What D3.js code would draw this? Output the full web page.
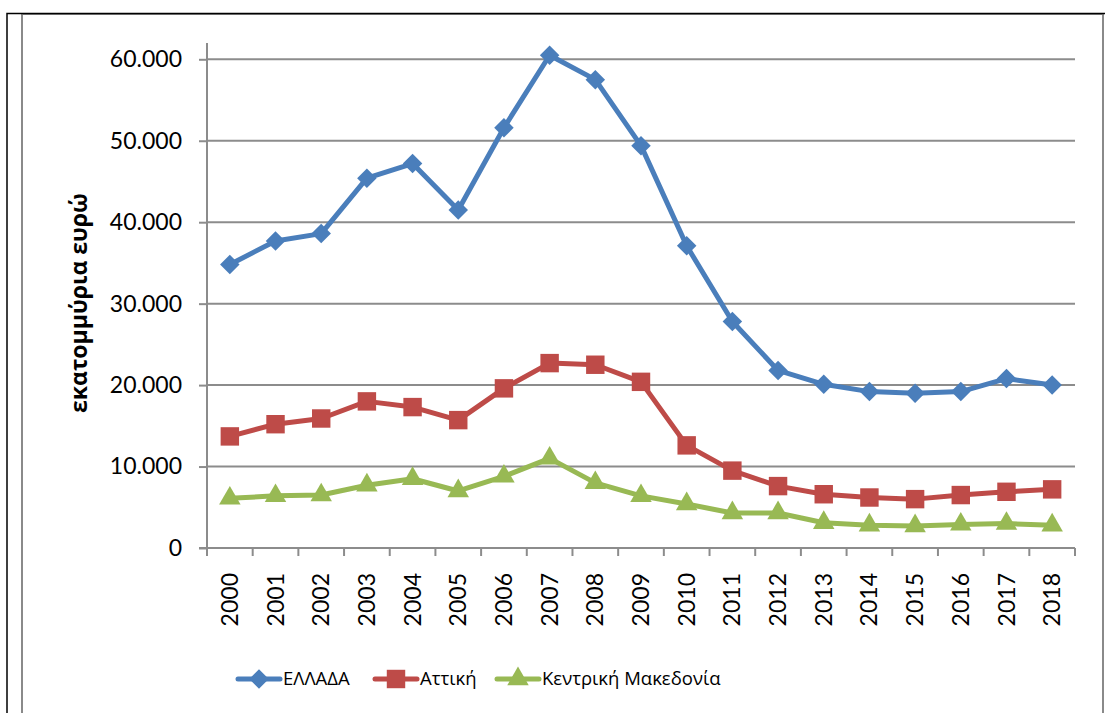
<!DOCTYPE html>
<html>
<head>
<meta charset="utf-8">
<script src="https://cdn.jsdelivr.net/npm/d3@7"></script>
<style>
    body { margin: 0; background: #fff; }
    text { font-family: Lato, "Open Sans", sans-serif; fill: #000; }
    .greek { font-family: "Open Sans", "Noto Sans", sans-serif; }
</style>
</head>
<body>
<script>
// dimensions
const width = 1105;
const height = 713;

// data (millions of euro)
const years = ["2000", "2001", "2002", "2003", "2004", "2005", "2006", "2007", "2008", "2009",
    "2010", "2011", "2012", "2013", "2014", "2015", "2016", "2017", "2018"];
const ellada = [34.8, 37.7, 38.6, 45.4, 47.2, 41.5, 51.6, 60.5, 57.5, 49.4,
    37.1, 27.8, 21.8, 20.1, 19.2, 19.0, 19.2, 20.8, 20.0].map(v => v * 1000);
const attiki = [13.7, 15.2, 15.9, 18.0, 17.3, 15.7, 19.6, 22.7, 22.5, 20.4,
    12.6, 9.5, 7.6, 6.6, 6.2, 6.0, 6.5, 6.9, 7.2].map(v => v * 1000);
const kentrMak = [6.1, 6.4, 6.5, 7.7, 8.5, 7.0, 8.8, 11.0, 8.0, 6.4,
    5.4, 4.3, 4.3, 3.1, 2.8, 2.7, 2.9, 3.0, 2.8].map(v => v * 1000);
const yTicks = [0, 10000, 20000, 30000, 40000, 50000, 60000];

const seriesNames = ["ΕΛΛΑΔΑ", "Αττική", "Κεντρική Μακεδονία"];
const seriesColors = ["#4a7ebb", "#be4b48", "#98b954"];

const series = [
    { name: seriesNames[0], values: ellada, color: seriesColors[0], marker: "diamond" },
    { name: seriesNames[1], values: attiki, color: seriesColors[1], marker: "square" },
    { name: seriesNames[2], values: kentrMak, color: seriesColors[2], marker: "triangle" }
];

const plot = { left: 207, right: 1075, top: 43, bottom: 548 };

const svg = d3.select("body")
    .append("svg")
    .attr("width", width)
    .attr("height", height);

// frame
svg.append("rect")
    .attr("x", 22).attr("y", 14)
    .attr("width", 1081).attr("height", 720)
    .attr("fill", "none")
    .attr("stroke", "#8a8a8a")
    .attr("stroke-width", 2);
svg.append("path")
    .attr("d", "M7,740V13.5H1105")
    .attr("fill", "none")
    .attr("stroke", "#000")
    .attr("stroke-width", 1.5);

// scales
const x = d3.scaleBand()
    .domain(years)
    .range([plot.left, plot.right]);

const y = d3.scaleLinear()
    .domain([0, 62000])
    .range([plot.bottom, plot.top]);

const locale = d3.formatLocale({ decimal: ",", thousands: ".", grouping: [3], currency: ["", "€"] });
const fmt = locale.format(",");

// gridlines
svg.append("g")
    .selectAll("line")
    .data(yTicks.filter(d => d > 0))
    .enter()
    .append("line")
    .attr("x1", plot.left)
    .attr("x2", plot.right)
    .attr("y1", d => y(d))
    .attr("y2", d => y(d))
    .attr("stroke", "#8c8c8c")
    .attr("stroke-width", 2);

// y axis
const yAxis = svg.append("g")
    .attr("transform", "translate(" + plot.left + ",0)")
    .call(d3.axisLeft(y).tickValues(yTicks).tickFormat(fmt).tickSize(8).tickPadding(17));
yAxis.select(".domain").attr("stroke", "#8c8c8c").attr("stroke-width", 2)
    .attr("d", "M0," + plot.top + "V" + plot.bottom);
yAxis.selectAll(".tick line").attr("stroke", "#8c8c8c").attr("stroke-width", 2);
yAxis.selectAll(".tick text")
    .style("font-size", "23px")
    .style("font-family", "Lato, 'Open Sans', sans-serif")
    .attr("fill", "#000");

// x axis
const xAxis = svg.append("g")
    .attr("transform", "translate(0," + plot.bottom + ")")
    .call(d3.axisBottom(x).tickSize(0).tickPadding(0));
xAxis.select(".domain").attr("stroke", "#8c8c8c").attr("stroke-width", 2)
    .attr("d", "M" + (plot.left - 8) + ",0H" + plot.right);
// tick marks sit on the band edges
xAxis.append("g")
    .selectAll("line")
    .data(years.concat(["end"]))
    .enter()
    .append("line")
    .attr("x1", (d, i) => plot.left + i * x.step())
    .attr("x2", (d, i) => plot.left + i * x.step())
    .attr("y1", 0)
    .attr("y2", 8)
    .attr("stroke", "#8c8c8c")
    .attr("stroke-width", 2);
xAxis.selectAll(".tick text")
    .style("font-size", "23px")
    .style("font-family", "Lato, 'Open Sans', sans-serif")
    .attr("fill", "#000")
    .attr("transform", "rotate(-90)")
    .attr("text-anchor", "end")
    .attr("x", -25)
    .attr("y", 0)
    .attr("dy", "0.35em");

// y axis title
svg.append("text")
    .attr("class", "greek")
    .attr("transform", "translate(79,303) rotate(-90)")
    .attr("text-anchor", "middle")
    .attr("dy", "0.35em")
    .style("font-size", "23px")
    .style("font-weight", "bold")
    .text("εκατομμύρια ευρώ");

// markers
function markerPath(type) {
    if (type === "diamond") return d3.symbol().type(d3.symbolSquare).size(190)();
    if (type === "square") return d3.symbol().type(d3.symbolSquare).size(340)();
    return d3.symbol().type(d3.symbolTriangle).size(200)();
}
function markerRotate(type) {
    return type === "diamond" ? " rotate(45)" : "";
}

const line = d3.line()
    .x((d, i) => x(years[i]) + x.bandwidth() / 2)
    .y(d => y(d));

series.forEach(function(s) {
    const g = svg.append("g");
    g.append("path")
        .attr("d", line(s.values))
        .attr("fill", "none")
        .attr("stroke", s.color)
        .attr("stroke-width", 5)
        .attr("stroke-linejoin", "round");
    g.selectAll(".pt")
        .data(s.values)
        .enter()
        .append("path")
        .attr("class", "pt")
        .attr("d", markerPath(s.marker))
        .attr("fill", s.color)
        .attr("transform", (d, i) => "translate(" + (x(years[i]) + x.bandwidth() / 2) + "," + y(d) + ")" + markerRotate(s.marker));
});

// legend
const legendX = [238, 375, 497];
const legend = svg.append("g")
    .selectAll("g")
    .data(series)
    .enter()
    .append("g")
    .attr("transform", (d, i) => "translate(" + legendX[i] + ",679)");
legend.append("line")
    .attr("x1", 0).attr("x2", 42)
    .attr("stroke", d => d.color)
    .attr("stroke-width", 5)
    .attr("stroke-linecap", "round");
legend.append("path")
    .attr("d", d => markerPath(d.marker))
    .attr("fill", d => d.color)
    .attr("transform", d => "translate(21,0)" + markerRotate(d.marker));
legend.append("text")
    .attr("class", "greek")
    .attr("x", 45)
    .attr("dy", "0.35em")
    .style("font-size", "18.5px")
    .text(d => d.name);
</script>
</body>
</html>
